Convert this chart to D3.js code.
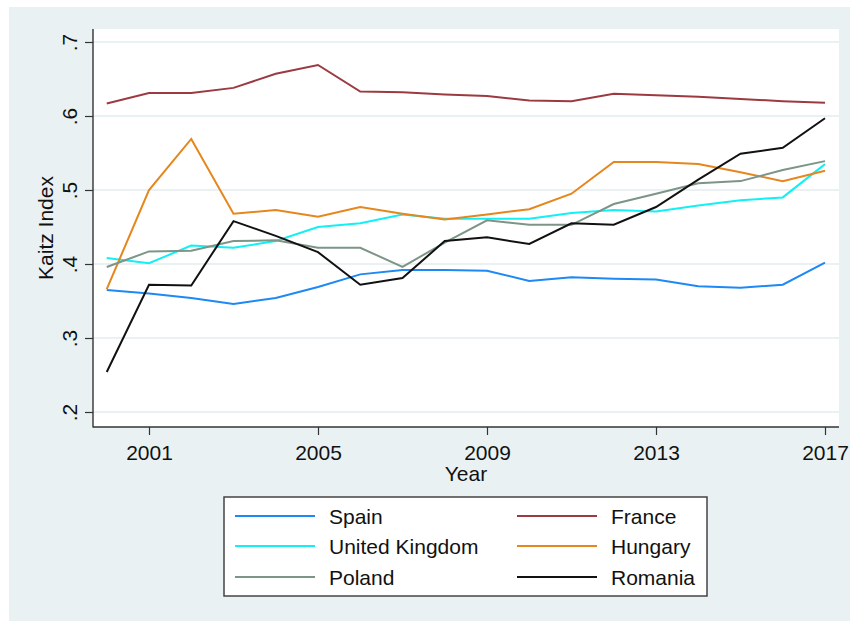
<!DOCTYPE html>
<html>
<head>
<meta charset="utf-8">
<script src="https://cdn.jsdelivr.net/npm/d3@7"></script>
<style>
  html, body { margin: 0; padding: 0; background: #ffffff; }
  svg { display: block; font-family: "Liberation Sans", Arial, sans-serif; }
</style>
</head>
<body>
<svg id="chart" width="850" height="621"></svg>
<script>
// Kaitz index (minimum wage relative to median wage) by country, 2000-2017
const years = d3.range(2000, 2018);
const spain   = [0.365, 0.360, 0.354, 0.346, 0.354, 0.369, 0.386, 0.392, 0.392, 0.391, 0.377, 0.382, 0.380, 0.379, 0.370, 0.368, 0.372, 0.402];
const france  = [0.617, 0.631, 0.631, 0.638, 0.657, 0.669, 0.633, 0.632, 0.629, 0.627, 0.621, 0.620, 0.630, 0.628, 0.626, 0.623, 0.620, 0.618];
const uk      = [0.408, 0.401, 0.425, 0.422, 0.431, 0.450, 0.455, 0.467, 0.461, 0.461, 0.461, 0.469, 0.473, 0.471, 0.479, 0.486, 0.490, 0.535];
const hungary = [0.366, 0.500, 0.569, 0.468, 0.473, 0.464, 0.477, 0.468, 0.460, 0.467, 0.474, 0.495, 0.538, 0.538, 0.535, 0.524, 0.512, 0.526];
const poland  = [0.396, 0.417, 0.418, 0.431, 0.432, 0.422, 0.422, 0.396, 0.429, 0.459, 0.453, 0.453, 0.481, 0.495, 0.509, 0.512, 0.527, 0.539];
const romania = [0.254, 0.372, 0.371, 0.458, 0.438, 0.416, 0.372, 0.381, 0.431, 0.436, 0.427, 0.455, 0.453, 0.477, 0.514, 0.549, 0.557, 0.597];

const xTicks = [2001, 2005, 2009, 2013, 2017];
const yTicks = [0.2, 0.3, 0.4, 0.5, 0.6, 0.7];

const series = [
  { name: "Spain",          values: spain,   color: "#1e88f5" },
  { name: "France",         values: france,  color: "#9b3a40" },
  { name: "United Kingdom", values: uk,      color: "#12f0f5" },
  { name: "Hungary",        values: hungary, color: "#e6861c" },
  { name: "Poland",         values: poland,  color: "#7c9587" },
  { name: "Romania",        values: romania, color: "#111111" }
];

const svg = d3.select("#chart");
const bg = "#e9f1f3";
const fontSize = 21;

// graph region
svg.append("rect").attr("x", 9).attr("y", 7).attr("width", 841).attr("height", 614).attr("fill", bg);

// plot region
const plot = { left: 93, right: 839, top: 29, bottom: 427 };
svg.append("rect")
  .attr("x", plot.left).attr("y", plot.top)
  .attr("width", plot.right - plot.left).attr("height", plot.bottom - plot.top)
  .attr("fill", "#ffffff");

const x = d3.scaleLinear().domain([2000, 2017]).range([106.75, 825]);
const y = d3.scaleLinear().domain([0.2, 0.7]).range([412, 42]);

// horizontal grid
svg.append("g").selectAll("line").data(yTicks).join("line")
  .attr("x1", plot.left).attr("x2", plot.right)
  .attr("y1", d => y(d)).attr("y2", d => y(d))
  .attr("stroke", bg).attr("stroke-width", 2);

// series lines
const line = d3.line().x((d, i) => x(years[i])).y(d => y(d));
svg.append("g").selectAll("path").data(series).join("path")
  .attr("d", d => line(d.values))
  .attr("fill", "none")
  .attr("stroke", d => d.color)
  .attr("stroke-width", 2)
  .attr("stroke-linejoin", "miter");

// y axis
const yAxis = d3.axisLeft(y).tickValues(yTicks).tickSize(8)
  .tickFormat(d => d.toFixed(1).replace(/^0/, ""));
const gy = svg.append("g").attr("transform", `translate(${plot.left},0)`).call(yAxis);
gy.select(".domain").remove();
gy.selectAll(".tick line").attr("stroke", "#333").attr("stroke-width", 1.2);
gy.selectAll(".tick text")
  .attr("x", null).attr("dy", null)
  .attr("transform", "translate(-16,0) rotate(-90)")
  .attr("text-anchor", "middle")
  .attr("font-size", fontSize)
  .attr("font-family", "Liberation Sans, Arial, sans-serif")
  .attr("fill", "#111");

// x axis
const xAxis = d3.axisBottom(x).tickValues(xTicks).tickSize(8).tickFormat(d3.format("d"));
const gx = svg.append("g").attr("transform", `translate(0,${plot.bottom})`).call(xAxis);
gx.select(".domain").remove();
gx.selectAll(".tick line").attr("stroke", "#333").attr("stroke-width", 1.2);
gx.selectAll(".tick text")
  .attr("y", 33).attr("dy", null)
  .attr("font-size", fontSize)
  .attr("font-family", "Liberation Sans, Arial, sans-serif")
  .attr("fill", "#111");

// axis lines
svg.append("line").attr("x1", plot.left).attr("x2", plot.left)
  .attr("y1", plot.top).attr("y2", plot.bottom + 0.6)
  .attr("stroke", "#333").attr("stroke-width", 1.4);
svg.append("line").attr("x1", plot.left).attr("x2", plot.right)
  .attr("y1", plot.bottom).attr("y2", plot.bottom)
  .attr("stroke", "#333").attr("stroke-width", 1.4);

// axis titles
svg.append("text")
  .attr("transform", `translate(53,${(plot.top + plot.bottom) / 2}) rotate(-90)`)
  .attr("text-anchor", "middle").attr("font-size", fontSize).attr("fill", "#111")
  .text("Kaitz Index");
svg.append("text")
  .attr("x", 466).attr("y", 481)
  .attr("text-anchor", "middle").attr("font-size", fontSize).attr("fill", "#111")
  .text("Year");

// legend
const legend = svg.append("g");
legend.append("rect")
  .attr("x", 224).attr("y", 497).attr("width", 483).attr("height", 99)
  .attr("fill", "#ffffff").attr("stroke", "#444").attr("stroke-width", 1.5);
const rowY = [516, 546, 577];
const colX = [235, 517];
const items = legend.selectAll("g.item").data(series).join("g").attr("class", "item")
  .attr("transform", (d, i) => `translate(${colX[i % 2]},${rowY[Math.floor(i / 2)]})`);
items.append("line").attr("x1", 0).attr("x2", 80).attr("y1", 0).attr("y2", 0)
  .attr("stroke", d => d.color).attr("stroke-width", 2);
items.append("text").attr("x", 94).attr("y", 7.5)
  .attr("font-size", fontSize).attr("fill", "#111")
  .text(d => d.name);
</script>
</body>
</html>
